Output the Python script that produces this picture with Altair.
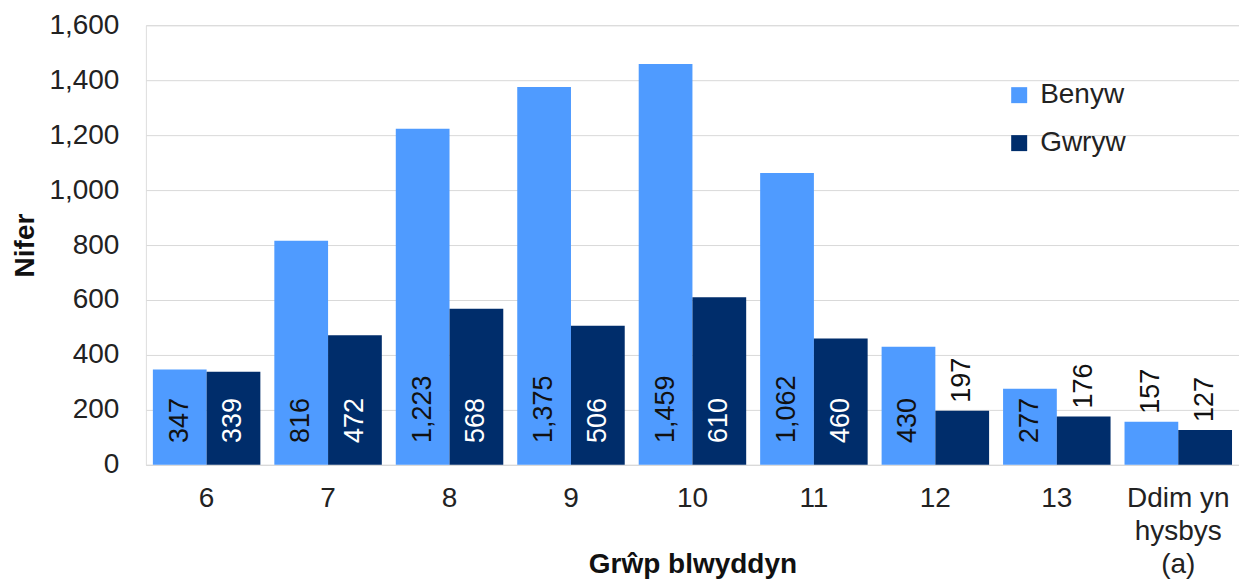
import altair as alt
import pandas as pd

categories = ["6", "7", "8", "9", "10", "11", "12", "13", "Ddim yn hysbys (a)"]
benyw = [347, 816, 1223, 1375, 1459, 1062, 430, 277, 157]
gwryw = [339, 472, 568, 506, 610, 460, 197, 176, 127]
series = ["Benyw", "Gwryw"]
colors = ["#4F9BFF", "#002D6B"]

rows = []
for c, b, g in zip(categories, benyw, gwryw):
    rows.append({"cat": c, "rhyw": "Benyw", "val": b})
    rows.append({"cat": c, "rhyw": "Gwryw", "val": g})
df = pd.DataFrame(rows)

FONT = "Liberation Sans"
H = 440
W = 1094

x = alt.X(
    "cat:N",
    sort=categories,
    scale=alt.Scale(paddingInner=0.115, paddingOuter=0.0575),
    axis=alt.Axis(
        title="Grŵp blwyddyn",
        labelAngle=0,
        labelFontSize=28,
        labelFont=FONT,
        labelColor="#222222",
        labelPadding=20,
        labelLineHeight=33,
        labelExpr="datum.value == 'Ddim yn hysbys (a)' ? ['Ddim yn', 'hysbys', '(a)'] : datum.label",
        ticks=False,
        domain=True,
        domainColor="#d9d9d9",
        titleFontSize=28,
        titleFont=FONT,
        titleFontWeight="bold",
        titleColor="#111111",
        titleBaseline="alphabetic",
        titleY=108,
    ),
)
xo = alt.XOffset("rhyw:N", sort=series, scale=alt.Scale(paddingInner=0, paddingOuter=0))

base = alt.Chart(df)

bars = base.mark_bar().encode(
    x=x,
    xOffset=xo,
    y=alt.Y(
        "val:Q",
        scale=alt.Scale(domain=[0, 1600]),
        axis=alt.Axis(
            title="Nifer",
            values=list(range(0, 1601, 200)),
            format=",d",
            labelFontSize=28,
            labelFont=FONT,
            labelColor="#222222",
            labelPadding=27,
            ticks=False,
            domain=False,
            grid=True,
            gridColor="#d9d9d9",
            gridWidth=1,
            titleFontSize=28,
            titleFont=FONT,
            titleFontWeight="bold",
            titleColor="#111111",
            titleBaseline="alphabetic",
            titleX=-112,
        ),
    ),
    color=alt.Color(
        "rhyw:N",
        sort=series,
        scale=alt.Scale(domain=series, range=colors),
        legend=alt.Legend(
            title=None,
            orient="none",
            legendX=860,
            legendY=56,
            symbolType="square",
            symbolSize=256,
            symbolStrokeWidth=0,
            labelFontSize=28,
            labelFont=FONT,
            labelColor="#222222",
            labelOffset=7,
            rowPadding=20,
        ),
    ),
)

inside = base.transform_filter("datum.val >= 250").mark_text(
    angle=270, align="left", baseline="middle", fontSize=27, font=FONT
).encode(
    x=x,
    xOffset=xo,
    y=alt.value(H - 22),
    text=alt.Text("val:Q", format=",d"),
    color=alt.condition("datum.rhyw == 'Benyw'", alt.value("#111111"), alt.value("#ffffff")),
)

outside = base.transform_filter("datum.val < 250").mark_text(
    angle=270, align="left", baseline="middle", fontSize=27, font=FONT, yOffset=-8, color="#111111"
).encode(
    x=x,
    xOffset=xo,
    y=alt.Y("val:Q"),
    text=alt.Text("val:Q", format=",d"),
)

chart = alt.layer(bars, inside, outside).properties(
    width=W, height=H, padding={"left": 4, "top": 3, "right": 0, "bottom": 0}
).configure_view(stroke=None).configure(background="white")

chart.save("out.html", embed_options={"renderer": "svg", "actions": False})
